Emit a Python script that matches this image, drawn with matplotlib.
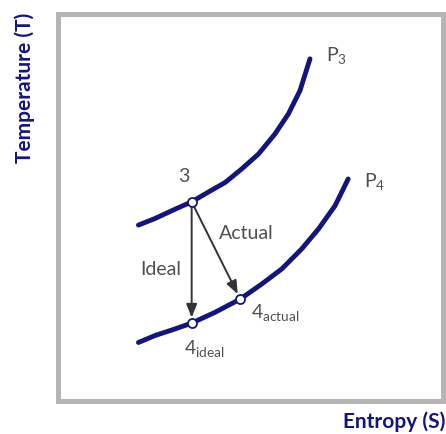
import matplotlib
matplotlib.use('Agg')
import matplotlib.pyplot as plt

plt.rcParams['font.family'] = ['Lato', 'DejaVu Sans']
plt.rcParams['mathtext.fontset'] = 'custom'
plt.rcParams['mathtext.rm'] = 'Lato'
plt.rcParams['mathtext.it'] = 'Lato'

# isobar P3 (entropy, temperature)
p3_s = [2.10, 2.53, 3.05, 3.48, 3.91, 4.35, 4.78, 5.21, 5.64, 5.99, 6.29, 6.55]
p3_t = [4.54, 4.71, 4.95, 5.14, 5.39, 5.64, 5.99, 6.37, 6.89, 7.41, 8.01, 8.83]

# isobar P4
p4_s = [2.10, 2.53, 3.05, 3.48, 4.09, 4.74, 5.30, 5.82, 6.33, 6.77, 7.20, 7.54]
p4_t = [1.51, 1.69, 1.86, 2.01, 2.29, 2.63, 3.02, 3.41, 3.92, 4.44, 5.04, 5.73]

# state points
state3 = (3.48, 5.14)
state4_ideal = (3.48, 2.01)
state4_actual = (4.74, 2.63)

navy = '#14157a'
grey_txt = '#505050'

fig = plt.figure(figsize=(4.46, 4.35), dpi=100)
ax = fig.add_axes([57.5 / 446, 33 / 435, 385.5 / 446, 387.5 / 435])
ax.set_xlim(0, 10)
ax.set_ylim(0, 10)
ax.set_xticks([])
ax.set_yticks([])
for sp in ax.spines.values():
    sp.set_color('#b5b5b5')
    sp.set_linewidth(3.6)

for s, t in ((p3_s, p3_t), (p4_s, p4_t)):
    ax.plot(s, t, color=navy, lw=3.5, solid_capstyle='round',
            solid_joinstyle='round', zorder=2)

arrow = dict(arrowstyle='-|>,head_length=0.8,head_width=0.32', color='#333333',
             lw=1.4, shrinkA=4, shrinkB=4)
ax.annotate('', xy=state4_ideal, xytext=state3, arrowprops=arrow, zorder=3)
ax.annotate('', xy=state4_actual, xytext=state3, arrowprops=arrow, zorder=3)

for pt in (state3, state4_ideal, state4_actual):
    ax.plot(*pt, 'o', ms=6.5, mfc='white', mec=navy, mew=1.3, zorder=4)

fs = 14
ax.text(3.28, 5.81, '3', fontsize=fs, color=grey_txt, ha='center', va='center')
ax.text(4.89, 4.36, 'Actual', fontsize=fs, color=grey_txt, ha='center', va='center')
ax.text(2.68, 3.43, 'Ideal', fontsize=fs, color=grey_txt, ha='center', va='center')
ax.text(6.97, 8.95, r'P$_{\mathregular{3}}$', fontsize=fs, color=grey_txt, va='center')
ax.text(7.96, 5.68, r'P$_{\mathregular{4}}$', fontsize=fs, color=grey_txt, va='center')
ax.text(5.02, 2.32, r'4$_{\mathregular{actual}}$', fontsize=fs, color=grey_txt, va='center')
ax.text(3.29, 1.39, r'4$_{\mathregular{ideal}}$', fontsize=fs, color=grey_txt, va='center')

fig.text(343 / 446, 1 - 422 / 435, 'Entropy (S)', fontsize=15, fontweight='bold',
         color=navy, ha='left', va='center')
fig.text(25 / 446, 1 - 88 / 435, 'Temperature (T)', fontsize=15, fontweight='bold',
         color=navy, rotation=90, ha='center', va='center')

fig.savefig('out.png', dpi=100)
